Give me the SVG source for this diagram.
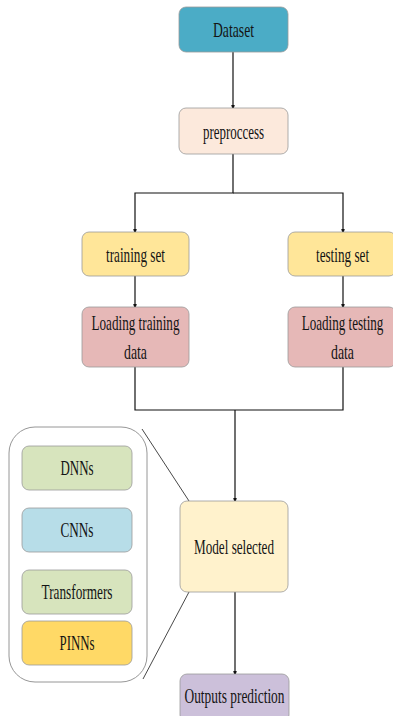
<svg xmlns="http://www.w3.org/2000/svg" width="393" height="716" viewBox="0 0 393 716">
  <defs>
    <marker id="arrow" markerWidth="7" markerHeight="13" refX="6.5" refY="3.5" orient="auto" markerUnits="userSpaceOnUse" viewBox="0 0 13 7">
      <path d="M0,0 L13,3.5 L0,7 Z" fill="#111"/>
    </marker>
    <style>
      .box { stroke: #9a9a9a; stroke-width: 0.8; }
      .lbl { font-family: "Liberation Serif", "Times New Roman", serif; font-size: 21.5px; fill: #141414; text-anchor: middle; }
      .edge { fill: none; stroke: #111; stroke-width: 1.2; }
      .zoom { fill: none; stroke: #333; stroke-width: 0.9; }
    </style>
  </defs>
  <rect width="393" height="716" fill="#ffffff"/>

  <!-- connectors -->
  <g id="connectors">
    <path class="edge" d="M233,52 V108" marker-end="url(#arrow)"/>
    <path class="edge" d="M233,154 V193 H135 V232" marker-end="url(#arrow)"/>
    <path class="edge" d="M233,193 H343 V232" marker-end="url(#arrow)"/>
    <path class="edge" d="M135,276 V307" marker-end="url(#arrow)"/>
    <path class="edge" d="M343,276 V307" marker-end="url(#arrow)"/>
    <path class="edge" d="M135,367 V410 H343 V367"/>
    <path class="edge" d="M235,410 V501" marker-end="url(#arrow)"/>
    <path class="edge" d="M235,592 V674" marker-end="url(#arrow)"/>
    <path class="zoom" d="M142,429 L189,501"/>
    <path class="zoom" d="M189,592 L143,679"/>
  </g>

  <g id="dataset">
    <rect class="box" x="179" y="7" width="109" height="45" rx="7" fill="#4bacc6" stroke="#3c8ea4"/>
    <text class="lbl" x="233.5" y="37" textLength="41" lengthAdjust="spacingAndGlyphs">Dataset</text>
  </g>

  <g id="preprocess">
    <rect class="box" x="179" y="108" width="109" height="46" rx="7" fill="#fce9dc"/>
    <text class="lbl" x="233.5" y="139" textLength="61" lengthAdjust="spacingAndGlyphs">preproccess</text>
  </g>

  <g id="training-set">
    <rect class="box" x="82" y="232" width="107" height="44" rx="7" fill="#ffe699"/>
    <text class="lbl" x="135.5" y="262" textLength="59" lengthAdjust="spacingAndGlyphs">training set</text>
  </g>

  <!-- right column runs past the page edge, labels are narrowed by transform -->
  <g id="testing-set">
    <rect class="box" x="288" y="232" width="108" height="44" rx="7" fill="#ffe699"/>
    <text class="lbl" transform="translate(342.5,262) scale(0.61,1)" textLength="87" lengthAdjust="spacingAndGlyphs">testing set</text>
  </g>

  <g id="loading-training">
    <rect class="box" x="82" y="307" width="107" height="60" rx="7" fill="#e6b8b7"/>
    <text class="lbl" x="135.5" y="330" textLength="88" lengthAdjust="spacingAndGlyphs">Loading training</text>
    <text class="lbl" x="135.5" y="359" textLength="23" lengthAdjust="spacingAndGlyphs">data</text>
  </g>

  <g id="loading-testing">
    <rect class="box" x="288" y="307" width="108" height="60" rx="7" fill="#e6b8b7"/>
    <text class="lbl" transform="translate(342.5,330) scale(0.61,1)" textLength="134" lengthAdjust="spacingAndGlyphs">Loading testing</text>
    <text class="lbl" transform="translate(342.5,359) scale(0.64,1)" textLength="36" lengthAdjust="spacingAndGlyphs">data</text>
  </g>

  <g id="model-family">
    <rect x="9" y="427" width="138" height="255" rx="26" fill="#ffffff" stroke="#8a8a8a" stroke-width="0.9"/>
  </g>

  <g id="dnns">
    <rect class="box" x="22" y="446" width="110" height="44" rx="7" fill="#d7e4bd"/>
    <text class="lbl" x="77" y="475" textLength="33" lengthAdjust="spacingAndGlyphs">DNNs</text>
  </g>

  <g id="cnns">
    <rect class="box" x="22" y="508" width="110" height="44" rx="7" fill="#b7dde8"/>
    <text class="lbl" x="77" y="537" textLength="33" lengthAdjust="spacingAndGlyphs">CNNs</text>
  </g>

  <g id="transformers">
    <rect class="box" x="22" y="570" width="110" height="44" rx="7" fill="#d7e4bd"/>
    <text class="lbl" x="77" y="599" textLength="71" lengthAdjust="spacingAndGlyphs">Transformers</text>
  </g>

  <g id="pinns">
    <rect class="box" x="22" y="621" width="110" height="44" rx="7" fill="#ffd966"/>
    <text class="lbl" x="77" y="650" textLength="35" lengthAdjust="spacingAndGlyphs">PINNs</text>
  </g>

  <g id="model-selected">
    <rect class="box" x="180" y="501" width="108" height="91" rx="7" fill="#fff2cc"/>
    <text class="lbl" x="234" y="554" textLength="80" lengthAdjust="spacingAndGlyphs">Model selected</text>
  </g>

  <g id="outputs-prediction">
    <rect class="box" x="180" y="674" width="109" height="48" rx="7" fill="#ccc0da"/>
    <text class="lbl" x="234.5" y="703" textLength="100" lengthAdjust="spacingAndGlyphs">Outputs prediction</text>
  </g>
</svg>
